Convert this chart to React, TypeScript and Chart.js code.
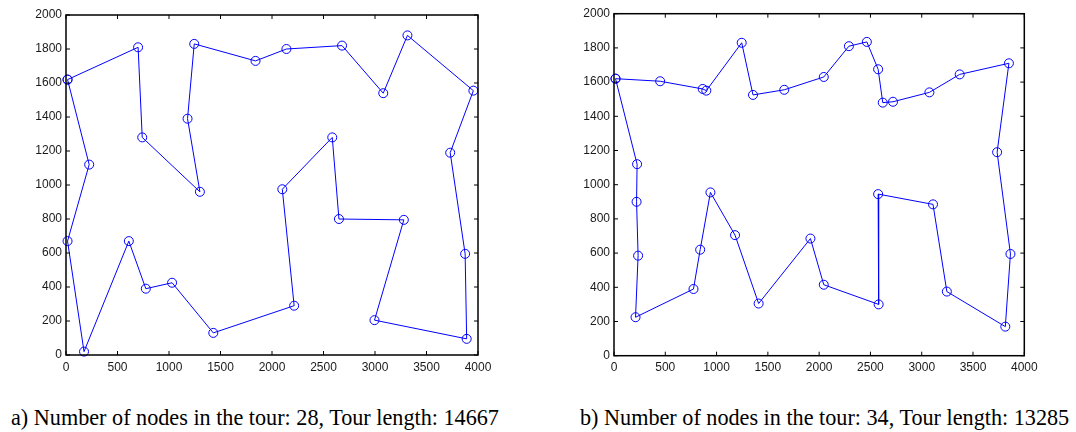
import React, { useEffect, useRef } from "react";
import { Chart, registerables } from "chart.js";

Chart.register(...registerables);

// Tour a) — 28 nodes, in visiting order
const tourAX = [15, 700, 740, 1300, 1180, 1245, 1840, 2140, 2680, 3080, 3315, 3955, 3730, 3875, 3890, 2995, 3280, 2650, 2585, 2100, 2215, 1430, 1030, 775, 610, 175, 15, 225];
const tourAY = [1620, 1810, 1280, 960, 1390, 1830, 1730, 1800, 1820, 1540, 1880, 1555, 1190, 595, 95, 205, 795, 800, 1280, 975, 290, 130, 425, 390, 670, 20, 670, 1120];

// Tour b) — 34 nodes, in visiting order
const tourBX = [15, 450, 865, 900, 1245, 1355, 1660, 2045, 2290, 2465, 2575, 2620, 2720, 3075, 3370, 3850, 3735, 3865, 3815, 3245, 3110, 2575, 2580, 2045, 1915, 1410, 1180, 940, 840, 775, 210, 235, 220, 225];
const tourBY = [1620, 1605, 1560, 1550, 1830, 1525, 1555, 1630, 1810, 1835, 1675, 1480, 1485, 1540, 1645, 1710, 1190, 595, 170, 375, 885, 945, 300, 415, 685, 305, 705, 955, 620, 390, 225, 585, 900, 1120];

const xTicks = [0, 500, 1000, 1500, 2000, 2500, 3000, 3500, 4000];
const yTicks = [0, 200, 400, 600, 800, 1000, 1200, 1400, 1600, 1800, 2000];

const captionA = "a) Number of nodes in the tour: 28, Tour length: 14667";
const captionB = "b) Number of nodes in the tour: 34, Tour length: 13285";

const CANVAS_W = 538;
const CANVAS_H = 380;

const boxPlugin = {
  id: "matlabBox",
  afterDraw(chart: any) {
    const { ctx, chartArea, scales } = chart;
    const { left, right, top, bottom } = chartArea;
    const x = scales.x;
    const y = scales.y;
    const tl = 4;
    ctx.save();
    ctx.strokeStyle = "#000";
    ctx.lineWidth = 1;
    ctx.beginPath();
    x.ticks.forEach((t: any) => {
      const px = x.getPixelForValue(t.value);
      ctx.moveTo(px, bottom);
      ctx.lineTo(px, bottom - tl);
      ctx.moveTo(px, top);
      ctx.lineTo(px, top + tl);
    });
    y.ticks.forEach((t: any) => {
      const py = y.getPixelForValue(t.value);
      ctx.moveTo(left, py);
      ctx.lineTo(left + tl, py);
      ctx.moveTo(right, py);
      ctx.lineTo(right - tl, py);
    });
    ctx.stroke();
    ctx.lineWidth = 1.5;
    ctx.strokeRect(left, top, right - left, bottom - top);
    ctx.restore();
  },
};

type Geo = { left: number; right: number; top: number; bottom: number };

function TourChart({ xs, ys, geo }: { xs: number[]; ys: number[]; geo: Geo }) {
  const ref = useRef<HTMLCanvasElement | null>(null);
  useEffect(() => {
    if (!ref.current) return;
    const pts = xs.map((v, i) => ({ x: v, y: ys[i] }));
    pts.push({ x: xs[0], y: ys[0] });
    const chart = new Chart(ref.current, {
      type: "scatter",
      data: {
        datasets: [
          {
            data: pts,
            showLine: true,
            borderColor: "#0000ff",
            borderWidth: 1,
            pointRadius: 4.5,
            pointHoverRadius: 4.5,
            pointBorderWidth: 1,
            pointBorderColor: "#0000ff",
            pointBackgroundColor: "rgba(0,0,0,0)",
            tension: 0,
            clip: false as any,
          },
        ],
      },
      options: {
        animation: false,
        responsive: false,
        maintainAspectRatio: false,
        events: [],
        layout: {
          padding: { left: 0, top: geo.top, right: CANVAS_W - geo.right, bottom: 0 },
        },
        plugins: { legend: { display: false }, tooltip: { enabled: false } },
        scales: {
          x: {
            type: "linear",
            min: 0,
            max: 4000,
            afterBuildTicks: (s: any) => {
              s.ticks = xTicks.map((v) => ({ value: v }));
            },
            afterFit: (s: any) => {
              s.height = CANVAS_H - geo.bottom;
            },
            grid: { display: false, drawTicks: false },
            border: { display: false },
            ticks: {
              padding: 5,
              color: "#1a1a1a",
              font: { family: "'Liberation Sans', Arial, sans-serif", size: 12 },
              maxRotation: 0,
              callback: (v: any) => String(v),
            },
          },
          y: {
            type: "linear",
            min: 0,
            max: 2000,
            afterBuildTicks: (s: any) => {
              s.ticks = yTicks.map((v) => ({ value: v }));
            },
            afterFit: (s: any) => {
              s.width = geo.left;
            },
            grid: { display: false, drawTicks: false },
            border: { display: false },
            ticks: {
              padding: 4,
              color: "#1a1a1a",
              font: { family: "'Liberation Sans', Arial, sans-serif", size: 12 },
              callback: (v: any) => String(v),
            },
          },
        },
      },
      plugins: [boxPlugin],
    });
    return () => chart.destroy();
  }, []);
  return <canvas ref={ref} width={CANVAS_W} height={CANVAS_H} style={{ width: CANVAS_W, height: CANVAS_H, display: "block" }} />;
}

const captionStyle: React.CSSProperties = {
  position: "absolute",
  top: 407,
  fontFamily: "'Liberation Serif', 'Times New Roman', serif",
  fontSize: 22.2,
  lineHeight: "22px",
  whiteSpace: "nowrap",
  color: "#000",
};

export default function App() {
  return (
    <div style={{ position: "absolute", left: 0, top: 0, width: 1076, height: 432, background: "#fff", overflow: "hidden" }}>
      <div style={{ position: "absolute", left: 0, top: 0 }}>
        <TourChart xs={tourAX} ys={tourAY} geo={{ left: 66, right: 478, top: 15, bottom: 355 }} />
      </div>
      <div style={{ position: "absolute", left: 538, top: 0 }}>
        <TourChart xs={tourBX} ys={tourBY} geo={{ left: 76, right: 486.3, top: 13.7, bottom: 355.7 }} />
      </div>
      <div style={{ ...captionStyle, left: 11 }}>{captionA}</div>
      <div style={{ ...captionStyle, left: 580 }}>{captionB}</div>
    </div>
  );
}
